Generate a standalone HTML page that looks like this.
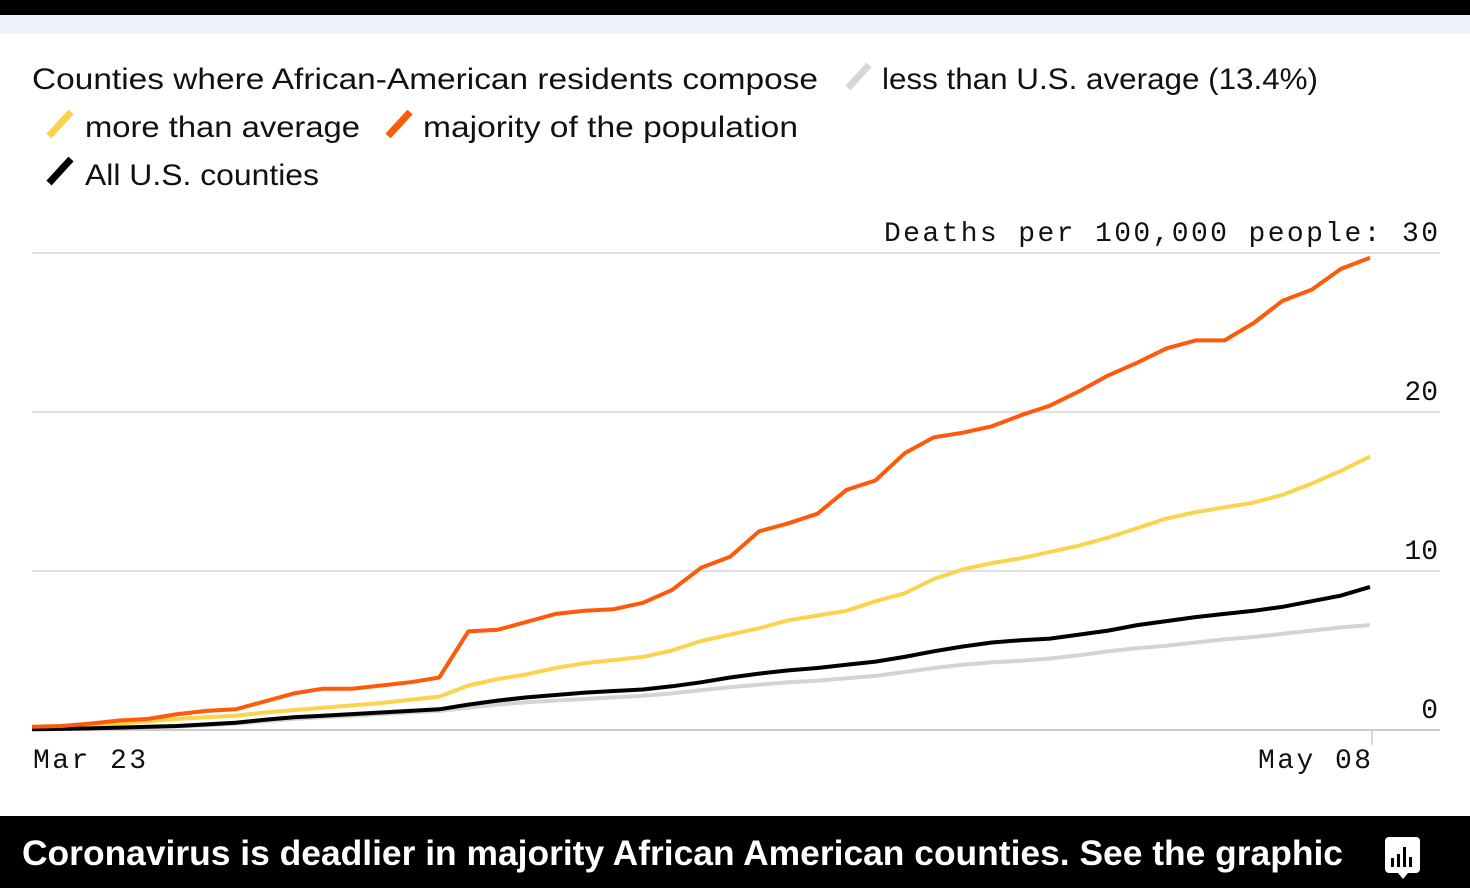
<!DOCTYPE html>
<html><head><meta charset="utf-8"><style>
html,body{margin:0;padding:0;background:#fff;width:1470px;height:888px;overflow:hidden}
svg{display:block}
</style></head><body>
<svg id="chart" width="1470" height="888" xmlns="http://www.w3.org/2000/svg" font-family="Liberation Sans, sans-serif">
<rect x="0" y="0" width="1470" height="15" fill="#000"/>
<rect x="0" y="15" width="1470" height="19" fill="#eef2fb"/>
<g font-size="30" fill="#111">
<text x="32" y="89" textLength="786" lengthAdjust="spacingAndGlyphs">Counties where African-American residents compose</text>
<line x1="848" y1="88" x2="869" y2="65" stroke="#d6d6d6" stroke-width="7"/>
<text x="882" y="89" textLength="436" lengthAdjust="spacingAndGlyphs">less than U.S. average (13.4%)</text>
<line x1="49" y1="136" x2="71" y2="112" stroke="#fcd34d" stroke-width="7"/>
<text x="85" y="137" textLength="275" lengthAdjust="spacingAndGlyphs">more than average</text>
<line x1="388" y1="136" x2="410" y2="112" stroke="#ff5a0a" stroke-width="7"/>
<text x="423" y="137" textLength="375" lengthAdjust="spacingAndGlyphs">majority of the population</text>
<line x1="49" y1="183" x2="71" y2="159" stroke="#000" stroke-width="7"/>
<text x="85" y="185" textLength="234" lengthAdjust="spacingAndGlyphs">All U.S. counties</text>
</g>
<g id="grid"></g>
<g id="ylabels" font-family="Liberation Mono, monospace" font-size="28" fill="#111"></g>
<g id="series"></g>
<g font-family="Liberation Mono, monospace" font-size="28" fill="#111">
<line x1="1372" y1="730" x2="1372" y2="745" stroke="#ccc" stroke-width="1.5"/>
<text x="33" y="768" textLength="113">Mar 23</text>
<text x="1258" y="768" textLength="113">May 08</text>
</g>
<rect x="0" y="816" width="1470" height="72" fill="#000"/>
<text x="22" y="865" font-size="35" font-weight="bold" fill="#fff" textLength="1321" lengthAdjust="spacingAndGlyphs">Coronavirus is deadlier in majority African American counties. See the graphic</text>
<g>
<rect x="1385" y="837" width="35" height="36" rx="4" fill="#fff"/>
<polygon points="1398,873 1408,873 1403,879" fill="#fff"/>
<rect x="1391" y="858" width="3" height="9" fill="#000"/>
<rect x="1397" y="854" width="3" height="13" fill="#000"/>
<rect x="1403" y="847" width="3" height="20" fill="#000"/>
<rect x="1409" y="857" width="3" height="10" fill="#000"/>
</g>
</svg>
<script>
const yTicks=[0,10,20,30];
const yTickLabels=["0","10","20","Deaths per 100,000 people: 30"];
const lessVals=[0.05,0.06,0.08,0.12,0.18,0.22,0.3,0.4,0.55,0.7,0.8,0.9,1.0,1.1,1.2,1.4,1.6,1.75,1.85,1.95,2.05,2.15,2.3,2.5,2.7,2.85,3.0,3.1,3.25,3.4,3.65,3.9,4.1,4.25,4.35,4.5,4.7,4.95,5.15,5.3,5.5,5.7,5.85,6.05,6.25,6.45,6.6];
const moreVals=[0.1,0.15,0.25,0.4,0.55,0.7,0.8,0.9,1.1,1.25,1.4,1.55,1.7,1.9,2.1,2.8,3.2,3.5,3.9,4.2,4.4,4.6,5.0,5.6,6.0,6.4,6.9,7.2,7.5,8.1,8.6,9.5,10.1,10.5,10.8,11.2,11.6,12.1,12.7,13.3,13.7,14.0,14.3,14.8,15.5,16.3,17.2];
const majorityVals=[0.2,0.25,0.4,0.6,0.7,1.0,1.2,1.3,1.8,2.3,2.6,2.6,2.8,3.0,3.3,6.2,6.3,6.8,7.3,7.5,7.6,8.0,8.8,10.2,10.9,12.5,13.0,13.6,15.1,15.7,17.4,18.4,18.7,19.1,19.8,20.4,21.3,22.3,23.1,24.0,24.5,24.5,25.6,27.0,27.7,29.0,29.7];
const allVals=[0.05,0.07,0.1,0.15,0.2,0.25,0.35,0.45,0.65,0.8,0.9,1.0,1.1,1.2,1.3,1.6,1.85,2.05,2.2,2.35,2.45,2.55,2.75,3.0,3.3,3.55,3.75,3.9,4.1,4.3,4.6,4.95,5.25,5.5,5.65,5.75,6.0,6.25,6.6,6.85,7.1,7.3,7.5,7.75,8.1,8.45,9.0];
const NS="http://www.w3.org/2000/svg";
const X0=32,X1=1370,Y0=730,Y30=253;
const n=majorityVals.length;
function xScale(i){return X0+(X1-X0)*i/(n-1);}
function yScale(v){return Y0+(Y30-Y0)*v/30;}
const grid=document.getElementById('grid'),yl=document.getElementById('ylabels'),ser=document.getElementById('series');
yTicks.forEach((t,k)=>{
  const l=document.createElementNS(NS,'line');
  
  
  l.setAttribute('x1',32);l.setAttribute('x2',1440);
  l.setAttribute('y1',yScale(t));l.setAttribute('y2',yScale(t));
  l.setAttribute('stroke',t===0?'#bbb':'#d6d6d6');l.setAttribute('stroke-width',1.5);
  grid.appendChild(l);
  const tx=document.createElementNS(NS,'text');
  
  
  tx.setAttribute('x',1438);tx.setAttribute('y',yScale(t)-12);
  tx.setAttribute('text-anchor','end');
  if(k===3){tx.setAttribute('textLength',554);}
  tx.textContent=yTickLabels[k];
  yl.appendChild(tx);
});
[[lessVals,'#d4d4d4','series-less'],[moreVals,'#fcd34d','series-more'],[allVals,'#000','series-all'],[majorityVals,'#ff5a0a','series-majority']].forEach(([vals,c,name])=>{
  const p=document.createElementNS(NS,'polyline');
  
  
  p.setAttribute('points',vals.map((v,i)=>xScale(i).toFixed(1)+','+yScale(v).toFixed(1)).join(' '));
  p.setAttribute('fill','none');p.setAttribute('stroke',c);p.setAttribute('stroke-width',4);
  p.setAttribute('stroke-linejoin','round');
  ser.appendChild(p);
});
</script>
</body></html>
